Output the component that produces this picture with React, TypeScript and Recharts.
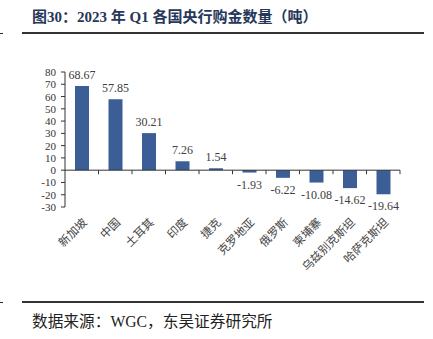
import React from 'react';
import { BarChart, Bar, XAxis, YAxis, ReferenceLine, LabelList } from 'recharts';

// 2023 年 Q1 各国央行购金数量（吨）
const countries = ['新加坡', '中国', '土耳其', '印度', '捷克', '克罗地亚', '俄罗斯', '柬埔寨', '乌兹别克斯坦', '哈萨克斯坦'];
const tonnes = [68.67, 57.85, 30.21, 7.26, 1.54, -1.93, -6.22, -10.08, -14.62, -19.64];
const yTicks = [-30, -20, -10, 0, 10, 20, 30, 40, 50, 60, 70, 80];

const data = countries.map((name, i) => ({ name, value: tonnes[i] }));

const W = 433;
const H = 310;
const M = { top: 72, right: 33, bottom: 0, left: 25 };
const Y_AXIS_W = 40;
const X_AXIS_H = H - 207;
const PLOT_W = W - M.left - M.right - Y_AXIS_W;
const PLOT_H = H - M.top - X_AXIS_H;
const ZERO_Y = M.top + (PLOT_H * 80) / 110;
const BAND = PLOT_W / countries.length;

const SERIF = '"Liberation Serif", "Times New Roman", "Noto Sans CJK SC", serif';
const CJK = '"Noto Sans CJK SC", sans-serif';

function CategoryTick(props: any) {
  const { x, payload } = props;
  const tx = x + 6;
  const ty = M.top + PLOT_H + 16;
  return (
    <g>
      <line x1={x + BAND / 2} x2={x + BAND / 2} y1={ZERO_Y} y2={ZERO_Y + 4} stroke="#333" />
      <text x={tx} y={ty} textAnchor="end" fontSize={11.5} fontFamily={CJK} fill="#444"
        transform={`rotate(-45 ${tx} ${ty})`}>
        {payload.value}
      </text>
    </g>
  );
}

function YTick(props: any) {
  const { x, y, payload, index } = props;
  const v = yTicks[index] ?? payload.value;
  return (
    <text x={x} y={y} dy={4} textAnchor="end" fontSize={11} fontFamily={SERIF} fill="#333">
      {String(v)}
    </text>
  );
}

function ValueLabel(props: any) {
  const { x, y, width, height, value } = props;
  const top = Math.min(y, y + height);
  const bottom = Math.max(y, y + height);
  const ty = value >= 0 ? top - 7 : bottom + 16;
  return (
    <text x={x + width / 2} y={ty} textAnchor="middle" fontSize={12} fontFamily={SERIF} fill="#404040">
      {value.toFixed(2)}
    </text>
  );
}

export default function App() {
  return (
    <div style={{ position: 'absolute', left: 0, top: 0, width: W, height: 339, background: '#fff' }}>
      <div style={{ position: 'absolute', left: 0, top: 0 }}>
        <BarChart width={W} height={H} data={data} margin={M} accessibilityLayer={false}>
          <XAxis dataKey="name" axisLine={false} tickLine={false} interval={0} height={X_AXIS_H} tick={<CategoryTick />} />
          <YAxis type="number" domain={[-30, 80]} ticks={yTicks} interval={0} width={Y_AXIS_W} stroke="#333"
            tickSize={4} tickMargin={5} tick={<YTick />} />
          <ReferenceLine y={0} stroke="#333" />
          <Bar dataKey="value" fill="#3B5E96" barSize={14} isAnimationActive={false}>
            <LabelList dataKey="value" content={<ValueLabel />} />
          </Bar>
        </BarChart>
      </div>
      <svg
        width={W}
        height={339}
        style={{ position: 'absolute', left: 0, top: 0, pointerEvents: 'none' }}
      >
        <text x={32} y={22} fontSize={15} fontWeight="bold" fontFamily={SERIF} fill="#26375A">
          图30：2023 年 Q1 各国央行购金数量（吨）
        </text>
        <rect x={22} y={32} width={402} height={2} fill="#333" />
        <rect x={0} y={33} width={3} height={1} fill="#333" />
        <rect x={22} y={301} width={402} height={2} fill="#333" />
        <rect x={0} y={302} width={3} height={1} fill="#333" />
        <text x={32} y={327} fontSize={15.7} fontFamily={SERIF} fill="#222">
          数据来源：WGC，东吴证券研究所
        </text>
      </svg>
    </div>
  );
}
